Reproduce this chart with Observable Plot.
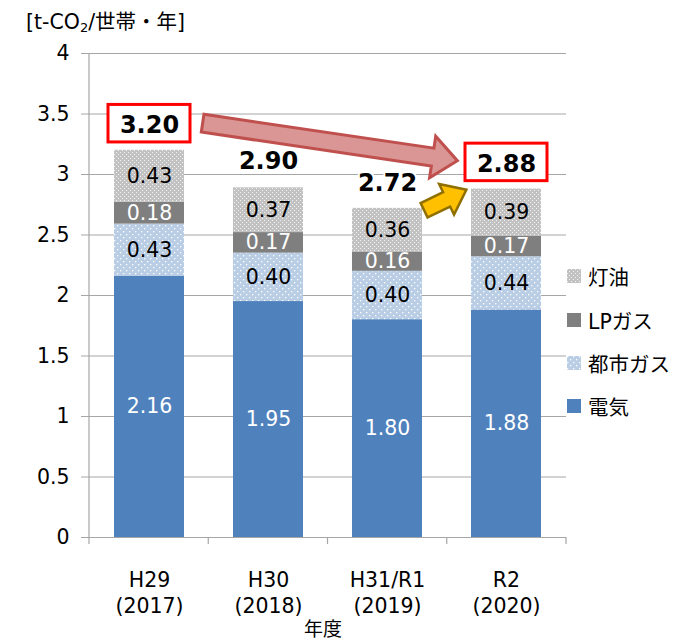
<!DOCTYPE html>
<html><head><meta charset="utf-8">
<script src="https://cdn.jsdelivr.net/npm/d3@7"></script>
<script src="https://cdn.jsdelivr.net/npm/@observablehq/plot@0.6"></script>
<style>
body{margin:0;background:#fff;}
#wrap{position:relative;width:682px;height:643px;overflow:hidden;font-family:"DejaVu Sans","Noto Sans CJK JP",sans-serif;color:#000;}
#title{position:absolute;left:26px;top:5px;font-size:20.5px;white-space:nowrap;}
#title sub{font-size:13px;vertical-align:-3px;}
#legend{position:absolute;left:567px;top:262px;font-size:20.5px;}
.li{position:absolute;left:0;height:28px;display:flex;align-items:center;white-space:nowrap;}
.li svg{margin-right:7px;}
</style></head><body>
<svg width="0" height="0" style="position:absolute">
<defs>
<pattern id="pKero" width="4" height="4" patternUnits="userSpaceOnUse">
<rect width="4" height="4" fill="#c2c2c2"/>
<rect x="0" y="0" width="1" height="1" fill="#f2f2f2"/>
<rect x="2" y="2" width="1" height="1" fill="#f2f2f2"/>
</pattern>
<pattern id="pCity" width="6" height="6" patternUnits="userSpaceOnUse">
<rect width="6" height="6" fill="#b9cde5"/>
<rect x="0" y="0" width="1.3" height="1.3" fill="#ffffff"/>
<rect x="3" y="3" width="1.3" height="1.3" fill="#ffffff"/>
</pattern>
</defs>
</svg>
<div id="wrap">
<div id="title">[t-CO<sub>2</sub>/世帯・年]</div>
<div id="legend"></div>
</div>
<script>
// ---- data ----
const years = ["H29\n(2017)", "H30\n(2018)", "H31/R1\n(2019)", "R2\n(2020)"];
const series = ["電気", "都市ガス", "LPガス", "灯油"];
const electricity = [2.16, 1.95, 1.80, 1.88];
const cityGas = [0.43, 0.40, 0.40, 0.44];
const lpGas = [0.18, 0.17, 0.16, 0.17];
const kerosene = [0.43, 0.37, 0.36, 0.39];
const totals = [3.20, 2.90, 2.72, 2.88];
const boxedYears = ["H29\n(2017)", "R2\n(2020)"];
const yTicks = [0, 0.5, 1, 1.5, 2, 2.5, 3, 3.5, 4];
const legendOrder = ["灯油", "LPガス", "都市ガス", "電気"];

// ---- styles ----
const FONT = '"DejaVu Sans","Noto Sans CJK JP",sans-serif';
const seriesFill = ["#4f81bd", "url(#pCity)", "#7f7f7f", "url(#pKero)"];
const whiteText = new Set(["電気", "LPガス"]);
const axisGray = "#a6a6a6";

const values = [electricity, cityGas, lpGas, kerosene];
const rows = [];
years.forEach((yr, i) => series.forEach((s, j) => rows.push({year: yr, series: s, value: values[j][i]})));
const totalRows = years.map((yr, i) => ({year: yr, total: totals[i]}));
const boxRows = totalRows.filter(d => boxedYears.includes(d.year));

const stackOpts = {x: "year", y: "value", z: "series", text: d => d.value.toFixed(2), fontSize: 20.5};

const plot = Plot.plot({
  width: 682, height: 643,
  marginTop: 53, marginBottom: 106, marginLeft: 89, marginRight: 116,
  style: {fontFamily: FONT, fontSize: "20px", background: "transparent", color: "#000", overflow: "visible"},
  x: {domain: years, paddingInner: 0.41, paddingOuter: 0.205, axis: null},
  y: {domain: [0, 4], axis: null},
  color: {type: "ordinal", domain: series, range: seriesFill},
  marks: [
    Plot.gridY(yTicks, {stroke: axisGray, strokeOpacity: 1, strokeWidth: 1}),
    Plot.axisY(yTicks, {tickSize: 8, tickPadding: 12, stroke: axisGray, fill: "#000", fontSize: 20.5, label: null, tickFormat: d => String(d)}),
    Plot.barY(rows, {x: "year", y: "value", fill: "series"}),
    Plot.ruleY([0], {stroke: axisGray, strokeWidth: 1.2}),
    Plot.text(rows, Plot.filter(d => !whiteText.has(d.series), Plot.stackY({...stackOpts, fill: "#000"}))),
    Plot.text(rows, Plot.filter(d => whiteText.has(d.series), Plot.stackY({...stackOpts, fill: "#fff"}))),
    Plot.barY(boxRows, {x: "year", y1: d => d.total + 0.065, y2: d => d.total + 0.375, fill: "#fff", stroke: "#ff0000", strokeWidth: 3, insetLeft: -6, insetRight: -6}),
    Plot.text(totalRows, {x: "year", y: "total", dy: -25, text: d => d.total.toFixed(2), fontSize: 24, fontWeight: "bold", fill: "#000", stroke: "#fff", strokeWidth: 4}),
    Plot.text(years, {x: d => d, frameAnchor: "bottom", lineAnchor: "middle", dy: 54, text: d => d, fontSize: 20.5, lineHeight: 1.28}),
    Plot.text(["年度"], {frameAnchor: "bottom", lineAnchor: "middle", dx: -5, dy: 92, text: d => d, fontSize: 19})
  ]
});

document.getElementById("wrap").appendChild(plot);
plot.style.position = "absolute";
plot.style.left = "0px";
plot.style.top = "0px";

// ---- overlay from Plot's scales ----
const xs = plot.scale("x"), ys = plot.scale("y");
const X = d3.scaleBand(xs.domain, xs.range).paddingInner(xs.paddingInner).paddingOuter(xs.paddingOuter).align(xs.align ?? 0.5);
const Y = d3.scaleLinear(ys.domain, ys.range);
const cx = c => X(c) + X.bandwidth() / 2;
const svg = d3.select(plot);
const g = svg.append("g");

// left axis line and category separator ticks
g.append("line").attr("x1", xs.range[0]).attr("x2", xs.range[0]).attr("y1", Y(0)).attr("y2", Y(4)).attr("stroke", axisGray).attr("stroke-width", 1.2);
const bounds = years.map(c => X(c) - X.step() * X.paddingInner() / 2);
bounds.push(bounds[bounds.length - 1] + X.step());
bounds.forEach(b => g.append("line").attr("x1", b).attr("x2", b).attr("y1", Y(0)).attr("y2", Y(0) + 7).attr("stroke", axisGray).attr("stroke-width", 1.2));

function blockArrow(x0, y0, x1, y1, sw, hw, hl) {
  const dx = x1 - x0, dy = y1 - y0, L = Math.hypot(dx, dy), ux = dx / L, uy = dy / L, nx = -uy, ny = ux;
  const bx = x1 - ux * hl, by = y1 - uy * hl;
  const pts = [[x0 + nx * sw, y0 + ny * sw], [bx + nx * sw, by + ny * sw], [bx + nx * hw, by + ny * hw], [x1, y1],
    [bx - nx * hw, by - ny * hw], [bx - nx * sw, by - ny * sw], [x0 - nx * sw, y0 - ny * sw]];
  return "M" + pts.map(p => p.join(",")).join("L") + "Z";
}
// big arrow H29 -> R2
g.append("path")
  .attr("d", blockArrow(cx(years[0]) + 54, Y(3.42), cx(years[3]) - 49, Y(3.11), 9, 21, 25))
  .attr("fill", "#d99694").attr("stroke", "#c0504d").attr("stroke-width", 3).attr("stroke-linejoin", "miter");
// small arrow H31 -> R2
g.append("path")
  .attr("d", blockArrow(cx(years[2]) + 37, Y(2.70), cx(years[3]) - 40, Y(2.87), 8, 17, 22))
  .attr("fill", "#ffc000").attr("stroke", "#8f6f00").attr("stroke-width", 2.5).attr("stroke-linejoin", "miter");

// ---- legend (HTML) ----
const legend = document.getElementById("legend");
const rowTops = [0, 44, 87, 130];
legendOrder.forEach((s, i) => {
  const div = document.createElement("div");
  div.className = "li";
  div.style.top = rowTops[i] + "px";
  const fill = seriesFill[series.indexOf(s)];
  div.innerHTML = `<svg width="14" height="14"><rect width="14" height="14" fill="${fill}"/></svg><span>${s}</span>`;
  legend.appendChild(div);
});
</script>
</body></html>
